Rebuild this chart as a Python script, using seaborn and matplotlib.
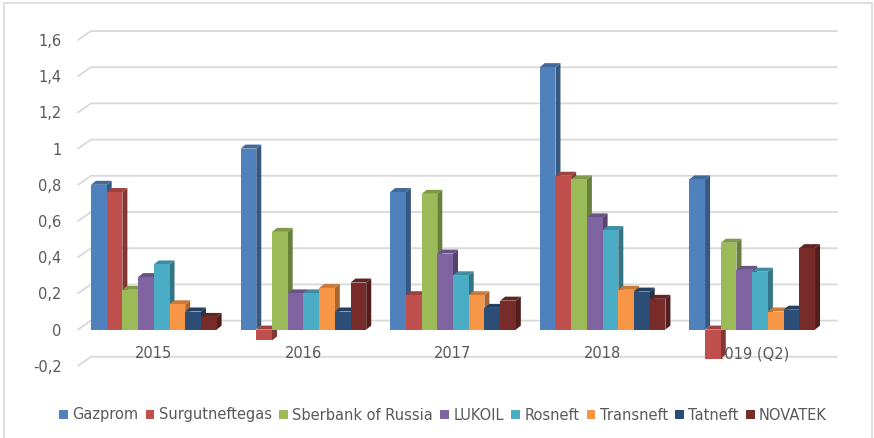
import numpy as np
import pandas as pd
import matplotlib
matplotlib.use("Agg")
import matplotlib.pyplot as plt
import matplotlib.colors as mcolors
from matplotlib.patches import Polygon, Rectangle
from matplotlib.lines import Line2D
from matplotlib.transforms import IdentityTransform
import seaborn as sns

# ---------------- data ----------------
years = ["2015", "2016", "2017", "2018", "2019 (Q2)"]
companies = ["Gazprom", "Surgutneftegas", "Sberbank of Russia", "LUKOIL",
             "Rosneft", "Transneft", "Tatneft", "NOVATEK"]
gazprom = [0.80, 1.00, 0.76, 1.45, 0.83]
surgutneftegas = [0.76, -0.06, 0.19, 0.85, -0.16]
sberbank = [0.22, 0.54, 0.75, 0.83, 0.48]
lukoil = [0.29, 0.20, 0.42, 0.62, 0.33]
rosneft = [0.36, 0.20, 0.30, 0.55, 0.32]
transneft = [0.14, 0.23, 0.19, 0.22, 0.10]
tatneft = [0.10, 0.10, 0.12, 0.21, 0.11]
novatek = [0.07, 0.26, 0.16, 0.17, 0.45]
yticks = [-0.2, 0.0, 0.2, 0.4, 0.6, 0.8, 1.0, 1.2, 1.4, 1.6]
ytick_labels = ["-0,2", "0", "0,2", "0,4", "0,6", "0,8", "1", "1,2", "1,4", "1,6"]

colors = ["#4F81BD", "#C0504D", "#9BBB59", "#8064A2",
          "#4BACC6", "#F79646", "#2C4D75", "#772C2A"]

series = [gazprom, surgutneftegas, sberbank, lukoil, rosneft, transneft, tatneft, novatek]
df = pd.DataFrame({
    "year": [y for s in series for y in years],
    "company": [c for c, s in zip(companies, series) for _ in years],
    "value": [v for s in series for v in s],
})

# ---------------- figure ----------------
sns.set_style("white")
plt.rcParams["font.family"] = ["DejaVu Sans"]
W, H = 874, 438
fig = plt.figure(figsize=(W / 100, H / 100), dpi=100)
ax_l, ax_r = 79, 827
ax_t, ax_b = 40.0, 365.8
ax = fig.add_axes([ax_l / W, 1 - ax_b / H, (ax_r - ax_l) / W, (ax_b - ax_t) / H])
ax.patch.set_alpha(0)

sns.barplot(data=df, x="year", y="value", hue="company", order=years,
            hue_order=companies, palette=colors, saturation=1, width=0.84,
            errorbar=None, ax=ax, linewidth=0, edgecolor="none")

handles, labels = ax.get_legend_handles_labels()
if ax.get_legend() is not None:
    ax.get_legend().remove()

ax.set_xlim(-0.5, len(years) - 0.5)
ax.set_ylim(-0.2, 1.6)
ax.set_xlabel("")
ax.set_ylabel("")
for s in ax.spines.values():
    s.set_visible(False)
ax.spines["bottom"].set_position(("data", 0))
ax.set_yticks(yticks, ytick_labels)
ax.tick_params(axis="y", length=0, pad=12.5, labelsize=10.5, labelcolor="#595959")
ax.tick_params(axis="x", length=0, pad=12, labelsize=10.5, labelcolor="#595959")
ax.grid(False)

# --- back-wall gridlines (3D look) ---
gdx, gdy = 13, 9
for v in yticks:
    y = ax.transData.transform((0, v))[1]
    ln = Line2D([ax_l - 1, ax_l + gdx - 1, ax_r + 10], [y, y + gdy, y + gdy],
                transform=IdentityTransform(), color="#D9D9D9", lw=1.3,
                zorder=0.5, clip_on=False)
    ax.add_artist(ln)

# --- 3D bar faces derived from seaborn's bars ---
bdx, bdy = 5, 4
for h, cont in enumerate(ax.containers):
    base = np.array(mcolors.to_rgb(colors[h]))
    for j, bar in enumerate(cont):
        k = j * len(companies) + h
        x0, y0 = bar.get_x(), bar.get_y()
        x1, y1 = x0 + bar.get_width(), y0 + bar.get_height()
        (px0, py0) = ax.transData.transform((x0, min(y0, y1)))
        (px1, py1) = ax.transData.transform((x1, max(y0, y1)))
        side = Polygon([(px1, py0), (px1 + bdx, py0 + bdy), (px1 + bdx, py1 + bdy), (px1, py1)],
                       closed=True, transform=IdentityTransform(),
                       fc=base * 0.68, ec="none", zorder=2 + k * 0.01, clip_on=False)
        top = Polygon([(px0, py1), (px1, py1), (px1 + bdx, py1 + bdy), (px0 + bdx, py1 + bdy)],
                      closed=True, transform=IdentityTransform(),
                      fc=base * 0.82, ec="none", zorder=2 + k * 0.01, clip_on=False)
        ax.add_artist(side)
        ax.add_artist(top)
        bar.set_zorder(2 + k * 0.01 + 0.005)
        bar.set_clip_on(False)

# --- legend ---
fig.legend(handles, labels, loc="center", bbox_to_anchor=(443 / W, 1 - 415 / H),
           ncol=8, frameon=False, fontsize=10.5, labelcolor="#595959",
           handlelength=0.6, handleheight=0.6, handletextpad=0.3,
           columnspacing=0.5, borderaxespad=0)

# --- chart border ---
fig.add_artist(Rectangle((4, -5), 868, H - 3 + 5, transform=IdentityTransform(),
                         fill=False, ec="#D9D9D9", lw=1.2))

fig.savefig("out.png", dpi=100)
